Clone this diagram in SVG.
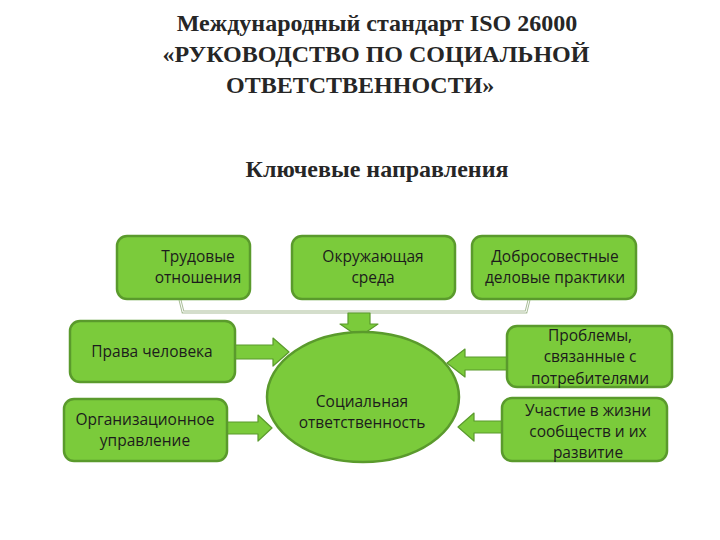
<svg xmlns="http://www.w3.org/2000/svg" width="720" height="540" viewBox="0 0 720 540">
<style>
.title{font-family:"Liberation Serif","Times New Roman",serif;font-weight:bold;font-size:24px;fill:#262626}
.box{fill:#7bcb3b;stroke:#5a9a2c;stroke-width:2.5}
.lbl{font-family:"Open Sans","Liberation Sans",sans-serif;font-size:15.5px;fill:#1c1c1c;text-anchor:middle}
.arr{fill:#7bcb3b;stroke:#5a9a2c;stroke-width:1.2;stroke-linejoin:round}
</style>
<rect width="720" height="540" fill="#ffffff"/>
<g id="title">
<text class="title" x="377" y="31" text-anchor="middle">Международный стандарт ISO 26000</text>
<text class="title" x="376" y="62" text-anchor="middle">«РУКОВОДСТВО ПО СОЦИАЛЬНОЙ</text>
<text class="title" x="226" y="93">ОТВЕТСТВЕННОСТИ»</text>
<text class="title" x="377" y="177" text-anchor="middle">Ключевые направления</text>
</g>
<g id="connectors">
<path d="M180,300 L183,312 L526,312 L529,300" fill="none" stroke="#a9bd98" stroke-width="3"/>
<path d="M180,300 L183,312 L526,312 L529,300" fill="none" stroke="#ffffff" stroke-width="1"/>
<path class="arr" d="M348,313 L370,313 L370,324 L378,324 L359,337 L340,324 L348,324 Z"/>
<path class="arr" d="M235,345 L273,345 L273,338 L289,352 L273,366 L273,359 L235,359 Z"/>
<path class="arr" d="M227,422 L258,422 L258,415 L272,428 L258,441 L258,434 L227,434 Z"/>
<path class="arr" d="M507,357 L465,357 L465,349 L447,363 L465,377 L465,370 L507,370 Z"/>
<path class="arr" d="M502,421 L474,421 L474,413 L458,427 L474,441 L474,433 L502,433 Z"/>
</g>
<g id="n-center">
<ellipse cx="363" cy="397" rx="96" ry="65" fill="#7bcb3b" stroke="#5a9a2c" stroke-width="2.5"/>
<text class="lbl" x="362" y="407">Социальная</text>
<text class="lbl" x="362" y="428">ответственность</text>
</g>
<g id="n-labor">
<rect class="box" x="117" y="236" width="133" height="63" rx="10"/>
<text class="lbl" x="198" y="262">Трудовые</text>
<text class="lbl" x="198" y="283">отношения</text>
</g>
<g id="n-env">
<rect class="box" x="292" y="236" width="163" height="63" rx="10"/>
<text class="lbl" x="373" y="262">Окружающая</text>
<text class="lbl" x="373" y="283">среда</text>
</g>
<g id="n-fair">
<rect class="box" x="472" y="236" width="164" height="63" rx="10"/>
<text class="lbl" x="555" y="262">Добросовестные</text>
<text class="lbl" x="555" y="283">деловые практики</text>
</g>
<g id="n-rights">
<rect class="box" x="70" y="321" width="165" height="61" rx="10"/>
<text class="lbl" x="152" y="357">Права человека</text>
</g>
<g id="n-gov">
<rect class="box" x="64" y="399" width="163" height="62" rx="10"/>
<text class="lbl" x="145" y="425">Организационное</text>
<text class="lbl" x="145" y="446">управление</text>
</g>
<g id="n-consumer">
<rect class="box" x="507" y="326" width="165" height="61" rx="10"/>
<text class="lbl" x="590" y="341">Проблемы,</text>
<text class="lbl" x="590" y="362">связанные с</text>
<text class="lbl" x="590" y="384">потребителями</text>
</g>
<g id="n-community">
<rect class="box" x="502" y="398" width="165" height="63" rx="10"/>
<text class="lbl" x="588" y="416">Участие в жизни</text>
<text class="lbl" x="588" y="437">сообществ и их</text>
<text class="lbl" x="588" y="458">развитие</text>
</g>
</svg>
